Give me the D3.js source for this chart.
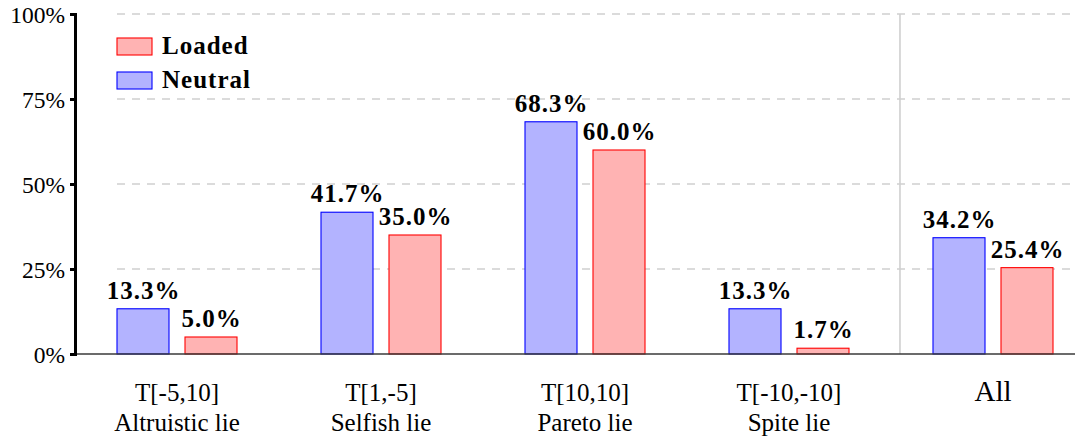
<!DOCTYPE html>
<html>
<head>
<meta charset="utf-8">
<script src="https://cdn.jsdelivr.net/npm/d3@7"></script>
<style>
  html, body { margin: 0; padding: 0; background: #fff; }
  svg { display: block; }
</style>
</head>
<body>
<svg id="chart" width="1075" height="441"></svg>
<script>
// ---- data ----
const categories = ["T[-5,10]", "T[1,-5]", "T[10,10]", "T[-10,-10]", "All"];
const subLabels = ["Altruistic lie", "Selfish lie", "Pareto lie", "Spite lie", ""];
const series = ["Neutral", "Loaded"];
const neutralValues = [13.3, 41.7, 68.3, 13.3, 34.2];
const loadedValues = [5.0, 35.0, 60.0, 1.7, 25.4];
const yTicks = [0, 25, 50, 75, 100];
const legendOrder = ["Loaded", "Neutral"];

// ---- layout ----
const W = 1075, H = 441;
const svg = d3.select("#chart");
const FONT = '"Liberation Serif"';

const y = d3.scaleLinear().domain([0, 100]).range([354, 14]);
const x = d3.scalePoint().domain(categories).range([177, 993]);
const step = x.step();
const xs = d3.scaleBand().domain(series).range([-60, 60]).paddingInner(16 / 68).paddingOuter(0);

const colors = {
  Neutral: { fill: "rgb(179,179,255)", stroke: "#0000ff" },
  Loaded: { fill: "rgb(255,179,179)", stroke: "#ff0000" }
};
const valuesBySeries = { Neutral: neutralValues, Loaded: loadedValues };

// grid lines
svg.append("g").selectAll("line")
  .data(yTicks.filter(d => d > 0))
  .join("line")
  .attr("x1", x(categories[0]) + xs("Neutral"))
  .attr("x2", W)
  .attr("y1", d => y(d)).attr("y2", d => y(d))
  .attr("stroke", "#b8b8b8")
  .attr("stroke-width", 1.2)
  .attr("stroke-dasharray", "8,7");

// separator before "All"
const sepX = x(categories[3]) + step * 0.544;
svg.append("line")
  .attr("x1", sepX).attr("x2", sepX)
  .attr("y1", y(100)).attr("y2", y(0))
  .attr("stroke", "#cfcfcf").attr("stroke-width", 1.6);

// bars
const groups = svg.append("g").selectAll("g")
  .data(categories)
  .join("g")
  .attr("transform", d => `translate(${x(d)},0)`);

groups.each(function(cat, i) {
  const g = d3.select(this);
  series.forEach(s => {
    const v = valuesBySeries[s][i];
    g.append("rect")
      .attr("x", xs(s))
      .attr("y", y(v))
      .attr("width", xs.bandwidth())
      .attr("height", y(0) - y(v))
      .attr("fill", colors[s].fill)
      .attr("stroke", colors[s].stroke)
      .attr("stroke-width", 1.1);
    g.append("text")
      .attr("x", xs(s) + xs.bandwidth() / 2 + 0.5)
      .attr("y", y(v) - 10)
      .attr("text-anchor", "middle")
      .style("font-family", FONT)
      .style("font-weight", "bold")
      .style("font-size", "25px")
      .style("letter-spacing", "1px")
      .attr("fill", "#000")
      .text(v.toFixed(1) + "%");
  });
});

// baseline
svg.append("line")
  .attr("x1", 75).attr("x2", W)
  .attr("y1", y(0)).attr("y2", y(0))
  .attr("stroke", "#3a3a3a").attr("stroke-width", 1.4);

// y axis
const yAxis = d3.axisLeft(y).tickValues(yTicks).tickFormat(d => d + "%").tickSize(5).tickPadding(5);
const ax = svg.append("g").attr("transform", "translate(75,0)").call(yAxis);
ax.attr("font-family", null);
ax.select(".domain").attr("stroke", "#000").attr("stroke-width", 3);
ax.selectAll(".tick line").attr("stroke", "#000").attr("stroke-width", 3);
ax.selectAll(".tick text")
  .style("font-family", FONT)
  .style("font-size", "23.5px")
  .attr("fill", "#000")
  .attr("dy", "0.34em");

// category labels
const labels = svg.append("g").selectAll("g")
  .data(categories)
  .join("g")
  .attr("transform", d => `translate(${x(d)},0)`);
labels.append("text")
  .attr("y", 401)
  .attr("text-anchor", "middle")
  .style("font-family", FONT)
  .style("font-size", d => d === "All" ? "29px" : "25px")
  .attr("fill", "#000")
  .text(d => d);
labels.append("text")
  .attr("y", 431)
  .attr("text-anchor", "middle")
  .style("font-family", FONT)
  .style("font-size", "25px")
  .attr("fill", "#000")
  .text((d, i) => subLabels[i]);

// legend
const legend = svg.append("g").selectAll("g")
  .data(legendOrder)
  .join("g")
  .attr("transform", (d, i) => `translate(117,${38 + i * 34})`);
legend.append("rect")
  .attr("width", 35).attr("height", 17)
  .attr("fill", d => colors[d].fill)
  .attr("stroke", d => colors[d].stroke)
  .attr("stroke-width", 1.1);
legend.append("text")
  .attr("x", 45).attr("y", 16)
  .style("font-family", FONT)
  .style("font-weight", "bold")
  .style("font-size", "25px")
  .style("letter-spacing", "1px")
  .attr("fill", "#000")
  .text(d => d);
</script>
</body>
</html>
